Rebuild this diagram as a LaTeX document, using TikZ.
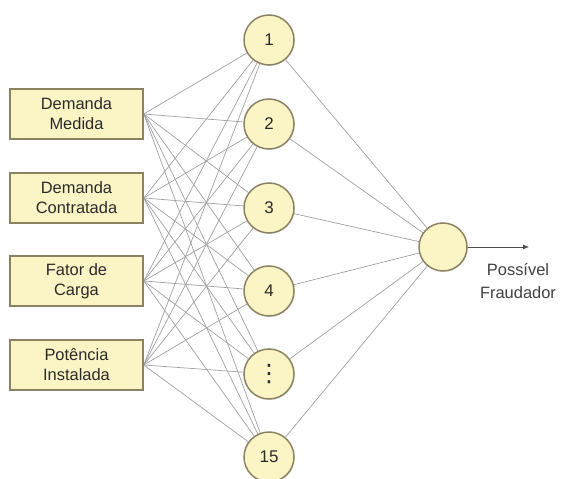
\documentclass[tikz,border=0pt]{standalone}
\usepackage{fontspec}
\setmainfont{Liberation Sans}
\newfontfamily\dejavu{DejaVu Sans}
\usetikzlibrary{shadows,arrows.meta,backgrounds}
\definecolor{nfill}{HTML}{FBF5C6}
\definecolor{nedge}{HTML}{8A8262}
\definecolor{lgray}{HTML}{A0A0A0}
\definecolor{ntext}{HTML}{2A2A2A}
\tikzset{
  inbox/.style={draw=nedge, line width=1.5bp, fill=nfill, minimum width=133bp, minimum height=50bp,
     inner sep=0pt, align=center, text=ntext, font=\fontsize{16.5}{20}\selectfont,
     drop shadow={opacity=0.25, shadow xshift=1.2bp, shadow yshift=-1.2bp}},
  neuron/.style={circle, draw=nedge, line width=1.5bp, fill=nfill, minimum size=50bp, inner sep=0pt,
     text=ntext, font=\fontsize{17}{20}\selectfont,
     drop shadow={opacity=0.2, shadow xshift=0.8bp, shadow yshift=-0.8bp}},
  outn/.style={neuron, minimum size=48bp},
  conn/.style={draw=lgray, line width=0.7bp},
  outlabel/.style={align=center, font=\fontsize{16.5}{23}\selectfont, text=black!75, inner sep=0pt}
}
\begin{document}
\begin{tikzpicture}[x=1bp,y=-1bp]
\useasboundingbox (0,0) rectangle (562,479);
% input boxes
\node[inbox] (i1) at (76.5,114) {Demanda\\Medida};
\node[inbox] (i2) at (76.5,198) {Demanda\\Contratada};
\node[inbox] (i3) at (76.5,281) {Fator de\\Carga};
\node[inbox] (i4) at (76.5,365) {Potência\\Instalada};
% hidden neurons
\node[neuron] (h1) at (269,40) {1};
\node[neuron] (h2) at (269,124) {2};
\node[neuron] (h3) at (269,208) {3};
\node[neuron] (h4) at (269,291) {4};
\node[neuron, font=\dejavu\fontsize{24}{24}\selectfont] (h5) at (269,374) {⋮};
\node[neuron] (h6) at (269,457) {15};
% output neuron
\node[outn] (o) at (443,247) {};
\coordinate (arr) at (529,247);
\node[outlabel] (lab) at (518,281) {Possível\\Fraudador};
% connections (drawn behind)
\begin{scope}[on background layer]
\foreach \i in {1,...,4}{
  \foreach \h in {1,...,6}{
    \draw[conn] (i\i.east) -- (h\h);
  }
}
\foreach \h in {1,...,6}{
  \draw[conn] (h\h) -- (o);
}
\end{scope}
\draw[draw=black!70, line width=0.8bp, -{Latex[length=6bp,width=5bp]}] (o.east) -- (arr);
\end{tikzpicture}
\end{document}
